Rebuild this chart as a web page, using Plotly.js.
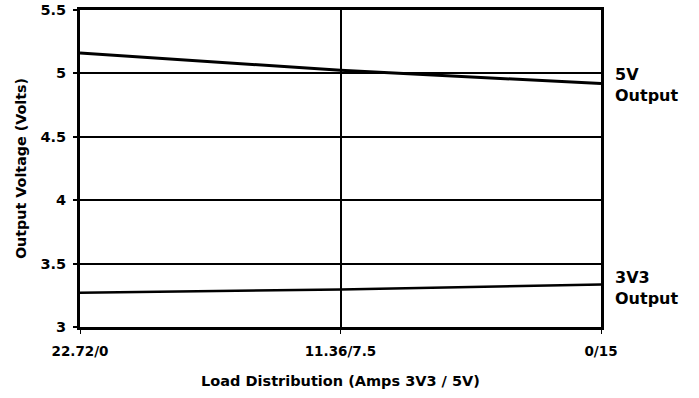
<!DOCTYPE html>
<html><head><meta charset="utf-8">
<script src="https://cdn.plot.ly/plotly-3.0.1.min.js"></script>
<style>html,body{margin:0;padding:0;background:#fff}#c{width:699px;height:398px}</style>
</head><body><div id="c"></div>
<script>
const categories = ["22.72/0", "11.36/7.5", "0/15"];
const v5 = [5.16, 5.025, 4.92];
const v3v3 = [3.27, 3.296, 3.335];
const seriesLabels = ["5V<br>Output", "3V3<br>Output"];
const yTicks = [3, 3.5, 4, 4.5, 5, 5.5];

const xs = categories.map((c, i) => i);
const fam = "DejaVu Sans, Arial, sans-serif";
const data = [
  {x: xs, y: v5, type: "scatter", mode: "lines", line: {color: "#000", width: 3}, hoverinfo: "skip"},
  {x: xs, y: v3v3, type: "scatter", mode: "lines", line: {color: "#000", width: 2.5}, hoverinfo: "skip"}
];
const layout = {
  width: 699, height: 398,
  margin: {l: 80, r: 98, t: 10, b: 71},
  paper_bgcolor: "#fff", plot_bgcolor: "#fff",
  showlegend: false,
  font: {family: fam, size: 14, color: "#000"},
  xaxis: {
    range: [0, 2], tickvals: xs, ticktext: categories,
    showgrid: true, gridcolor: "#000", gridwidth: 2,
    showline: true, linecolor: "#000", linewidth: 3, mirror: true,
    ticks: "outside", ticklen: 4, tickwidth: 1, tickcolor: "#000",
    ticklabelstandoff: 6,
    zeroline: false, tickfont: {family: fam, size: 13.5, color: "#000", weight: "bold"},
    title: {text: "<b>Load Distribution (Amps 3V3 / 5V)</b>", font: {family: fam, size: 14.5, color: "#000"}, standoff: 18}
  },
  yaxis: {
    range: [3, 5.5], tickvals: yTicks,
    showgrid: true, gridcolor: "#000", gridwidth: 2,
    showline: true, linecolor: "#000", linewidth: 3, mirror: true,
    ticks: "outside", ticklen: 4, tickwidth: 2, tickcolor: "#000",
    ticklabelstandoff: 4,
    zeroline: false, tickfont: {family: fam, size: 14.5, color: "#000", weight: "bold"},
    title: {text: "<b>Output Voltage (Volts)</b>", font: {family: fam, size: 14.3, color: "#000"}, standoff: 11}
  },
  annotations: [
    {x: 1, xref: "paper", xshift: 12, y: 4.905, yref: "y", text: "<b>" + seriesLabels[0] + "</b>", showarrow: false, xanchor: "left", yanchor: "middle", align: "left", font: {family: fam, size: 16, color: "#000"}},
    {x: 1, xref: "paper", xshift: 12, y: 3.31, yref: "y", text: "<b>" + seriesLabels[1] + "</b>", showarrow: false, xanchor: "left", yanchor: "middle", align: "left", font: {family: fam, size: 16, color: "#000"}}
  ]
};
Plotly.newPlot("c", data, layout, {staticPlot: true, displayModeBar: false});
</script></body></html>
